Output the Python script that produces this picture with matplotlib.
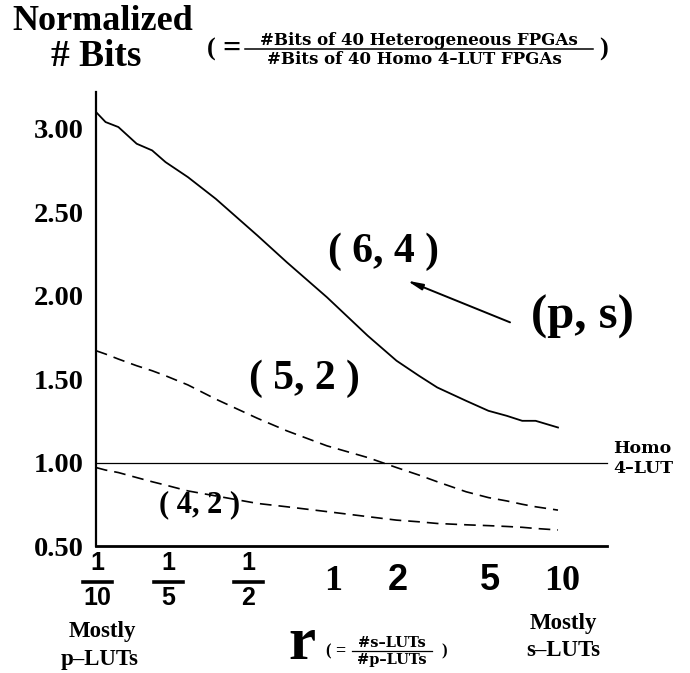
import matplotlib
matplotlib.use("Agg")
import matplotlib.pyplot as plt
from matplotlib.ticker import NullLocator, FixedLocator
from matplotlib.lines import Line2D

# ---------------- data ----------------
r_values = [0.1, 0.11, 0.125, 0.15, 0.175, 0.2, 0.25, 0.33, 0.5, 0.67,
            1.0, 1.5, 2.0, 2.5, 3.0, 4.0, 5.0, 6.0, 7.0, 8.0, 10.0]
bits_6_4 = [3.10, 3.04, 3.01, 2.91, 2.87, 2.80, 2.71, 2.58, 2.36, 2.20,
            1.99, 1.76, 1.61, 1.52, 1.45, 1.37, 1.31, 1.28, 1.25, 1.25, 1.21]
bits_5_2 = [1.67, 1.65, 1.62, 1.58, 1.55, 1.52, 1.465, 1.38, 1.265, 1.19,
            1.10, 1.03, 0.97, 0.925, 0.885, 0.825, 0.79, 0.77, 0.75, 0.735, 0.715]
bits_4_2 = [0.97, 0.955, 0.94, 0.91, 0.885, 0.865, 0.83, 0.80, 0.755, 0.735,
            0.706, 0.676, 0.655, 0.645, 0.635, 0.627, 0.622, 0.617, 0.612, 0.605, 0.596]
homo_level = 1.0

y_ticks = [0.5, 1.0, 1.5, 2.0, 2.5, 3.0]
x_ticks = [0.1, 0.2, 0.5, 1, 2, 5, 10]
x_tick_num = ["1", "1", "1", None, None, None, None]
x_tick_den = ["10", "5", "2", "1", "2", "5", "10"]

SERIF = "Liberation Serif"
WIDE = "DejaVu Serif"
SANS = "Liberation Sans"

W, H = 690, 673
fig = plt.figure(figsize=(W / 100, H / 100), dpi=100)

def fx(px):
    return px / W

def fy(py):
    return 1 - py / H

ax = fig.add_axes([fx(96), fy(546), (607 - 96) / W, (546 - 92) / H])
ax.set_xscale("log")
ax.set_xlim(0.1, 16.3)
ax.set_ylim(0.5, 3.22)

for s in ("top", "right"):
    ax.spines[s].set_visible(False)
ax.spines["left"].set_linewidth(1.6)
ax.spines["bottom"].set_linewidth(2.0)

ax.xaxis.set_major_locator(FixedLocator(x_ticks))
ax.xaxis.set_minor_locator(NullLocator())
ax.tick_params(axis="x", which="both", length=0, labelbottom=False)
ax.set_yticks(y_ticks)
ax.set_yticklabels([f"{v:.2f}" for v in y_ticks])
ax.tick_params(axis="y", length=0, pad=9)
for lab in ax.get_yticklabels():
    lab.set_fontfamily(SERIF)
    lab.set_fontweight("bold")
    lab.set_fontsize(20.5)

# ---------------- curves ----------------
ax.axhline(homo_level, color="black", lw=0.9, clip_on=False)
ax.plot(r_values, bits_6_4, color="black", lw=1.3, solid_joinstyle="round")
ax.plot(r_values, bits_5_2, color="black", lw=1.2, linestyle=(0, (7.0, 4.2)))
ax.plot(r_values, bits_4_2, color="black", lw=1.2, linestyle=(0, (7.0, 4.2)))

# curve labels
ax.text(1.75, 2.26, "( 6, 4 )", fontfamily=SERIF, fontweight="bold",
        fontsize=30, ha="center", va="center")
ax.text(0.80, 1.50, "( 5, 2 )", fontfamily=SERIF, fontweight="bold",
        fontsize=30, ha="center", va="center")
ax.text(0.282, 0.745, "( 4, 2 )", fontfamily=SERIF, fontweight="bold",
        fontsize=22, ha="center", va="center")
ax.text(12.8, 1.87, "(p, s)", fontfamily=SERIF, fontweight="bold",
        fontsize=35, ha="center", va="center", clip_on=False)
ax.annotate("", xy=(2.22, 2.09), xytext=(6.2, 1.84),
            arrowprops=dict(arrowstyle="-|>,head_length=0.9,head_width=0.18",
                            lw=1.4, color="black", shrinkA=0, shrinkB=0))

# Homo 4-LUT label
fig.text(fx(613), fy(453), "Homo", fontfamily=WIDE, fontweight="bold",
         fontsize=12.5, ha="left", va="baseline")
fig.text(fx(613), fy(473), "4\u2013LUT", fontfamily=WIDE, fontweight="bold",
         fontsize=12.5, ha="left", va="baseline")

# ---------------- x tick labels ----------------
x_shift_px = [1.5, 2.5, -9, 6, 1, 2, 4]
for xv, num, den, sh in zip(x_ticks, x_tick_num, x_tick_den, x_shift_px):
    xpix = ax.transData.transform((xv, 1.0))[0] + sh
    xf = xpix / W
    if num is None:
        fam = SERIF if den in ("1", "10") else SANS
        fig.text(xf, fy(581), den, fontfamily=fam, fontweight="bold",
                 fontsize=26, ha="center", va="center")
    else:
        fig.text(xf, fy(563), num, fontfamily=SANS, fontweight="bold",
                 fontsize=18, ha="center", va="center")
        fig.add_artist(Line2D([fx(xpix - 14.5), fx(xpix + 14.5)], [fy(582), fy(582)],
                              color="black", lw=2.6, transform=fig.transFigure))
        fig.text(xf, fy(598), den, fontfamily=SANS, fontweight="bold",
                 fontsize=18, ha="center", va="center")

# ---------------- axis captions ----------------
fig.text(fx(102), fy(632), "Mostly", fontfamily=SERIF, fontweight="bold",
         fontsize=16.5, ha="center", va="center")
fig.text(fx(100), fy(659), "p\u2013LUTs", fontfamily=SERIF, fontweight="bold",
         fontsize=16.5, ha="center", va="center")
fig.text(fx(563), fy(623), "Mostly", fontfamily=SERIF, fontweight="bold",
         fontsize=16.5, ha="center", va="center")
fig.text(fx(563), fy(651), "s\u2013LUTs", fontfamily=SERIF, fontweight="bold",
         fontsize=16.5, ha="center", va="center")

fig.text(fx(302), fy(659), "r", fontfamily=SERIF, fontweight="bold",
         fontsize=44, ha="center", va="baseline")
fig.text(fx(328), fy(651), "(", fontfamily=SERIF, fontweight="bold",
         fontsize=12, ha="center", va="center")
fig.text(fx(340), fy(651), "=", fontfamily=SERIF, fontweight="bold",
         fontsize=13, ha="center", va="center")
fig.text(fx(392), fy(647), "#s\u2013LUTs", fontfamily=WIDE, fontweight="bold",
         fontsize=10.5, ha="center", va="baseline")
fig.add_artist(Line2D([fx(352), fx(432)], [fy(650.5), fy(650.5)], color="black",
                      lw=0.9, transform=fig.transFigure))
fig.text(fx(392), fy(664), "#p\u2013LUTs", fontfamily=WIDE, fontweight="bold",
         fontsize=10.5, ha="center", va="baseline")
fig.text(fx(444), fy(651), ")", fontfamily=SERIF, fontweight="bold",
         fontsize=12, ha="center", va="center")

# ---------------- y-axis title ----------------
fig.text(fx(103), fy(22), "Normalized", fontfamily=SERIF, fontweight="bold",
         fontsize=26, ha="center", va="center")
fig.text(fx(96), fy(57), "# Bits", fontfamily=SERIF, fontweight="bold",
         fontsize=27, ha="center", va="center")
fig.text(fx(211), fy(49), "(", fontfamily=SERIF, fontweight="bold",
         fontsize=19, ha="center", va="center")
fig.text(fx(231), fy(49), "=", fontfamily=SERIF, fontweight="bold",
         fontsize=23, ha="center", va="center")
fig.text(fx(419), fy(45), "#Bits of 40 Heterogeneous FPGAs", fontfamily=WIDE,
         fontweight="bold", fontsize=12, ha="center", va="baseline")
fig.add_artist(Line2D([fx(245), fx(593)], [fy(48.5), fy(48.5)], color="black",
                      lw=1.1, transform=fig.transFigure))
fig.text(fx(414), fy(64), "#Bits of 40 Homo 4\u2013LUT FPGAs", fontfamily=WIDE,
         fontweight="bold", fontsize=12, ha="center", va="baseline")
fig.text(fx(604), fy(49), ")", fontfamily=SERIF, fontweight="bold",
         fontsize=19, ha="center", va="center")

fig.savefig("out.png", dpi=100, facecolor="white")
